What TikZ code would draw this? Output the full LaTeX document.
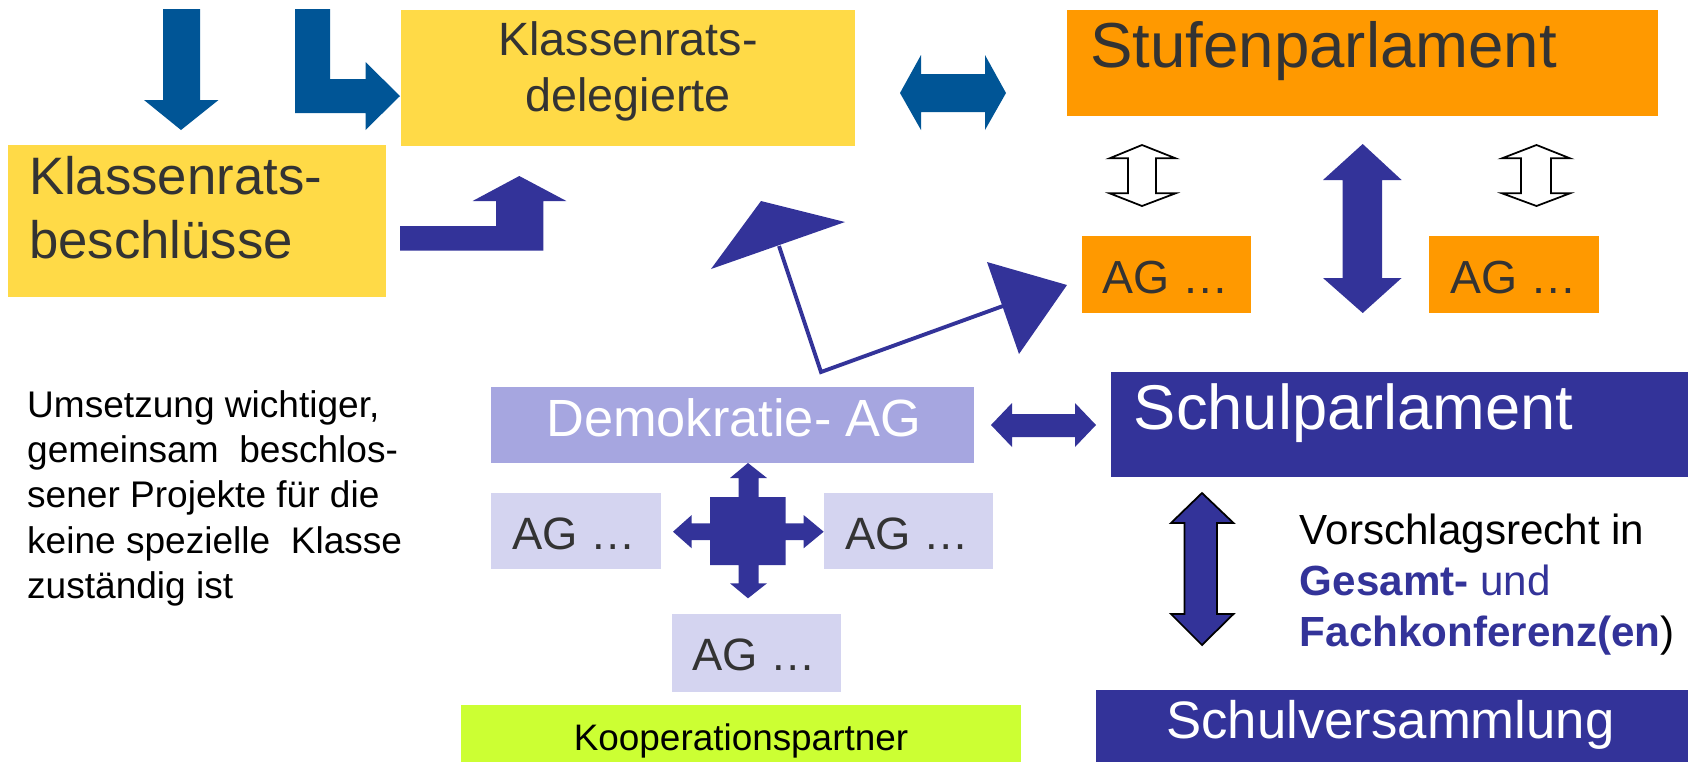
\documentclass[tikz,border=0pt]{standalone}
\usepackage{fontspec}
\setmainfont{Liberation Sans}
\definecolor{ylw}{HTML}{FFDA47}
\definecolor{org}{HTML}{FF9900}
\definecolor{blu}{HTML}{005596}
\definecolor{pur}{HTML}{333399}
\definecolor{lav}{HTML}{A6A6E0}
\definecolor{lil}{HTML}{D4D4F0}
\definecolor{lime}{HTML}{CCFF33}
\definecolor{txt}{HTML}{333333}
\newcommand\myfs[1]{\fontsize{#1pt}{#1pt}\selectfont}
\begin{document}
\begin{tikzpicture}[x=0.02cm,y=-0.02cm,
  lbl/.style={inner sep=0pt, anchor=base west},
  clbl/.style={inner sep=0pt, anchor=base},
  bluearrow/.style={fill=blu, draw=none},
  purarrow/.style={fill=pur, draw=none},
  outarrow/.style={fill=white, draw=black, line width=1pt},
  linkline/.style={draw=pur, line width=2.2pt, line join=miter}]
\useasboundingbox (0,0) rectangle (1688,762);

% boxes
\fill[ylw] (401,10) rectangle (855,146);
\fill[ylw] (8,145) rectangle (386,297);
\fill[org] (1067,10) rectangle (1658,116);
\fill[org] (1082,236) rectangle (1251,313);
\fill[org] (1429,236) rectangle (1599,313);
\fill[pur] (1111,372) rectangle (1688,477);
\fill[lav] (491,387) rectangle (974,463);
\fill[lil] (491,493) rectangle (661,569);
\fill[lil] (824,493) rectangle (993,569);
\fill[lil] (672,614) rectangle (841,692);
\fill[lime] (461,705) rectangle (1021,762);
\fill[pur] (1096,690) rectangle (1688,762);

% texts
\node[clbl, text=txt, font=\myfs{26.6}] (kd1) at (628,55) {Klassenrats-};
\node[clbl, text=txt, font=\myfs{26.6}] (kd2) at (628,111) {delegierte};
\node[lbl, text=txt, font=\myfs{30}] (kb1) at (28.7,194) {Klassenrats-};
\node[lbl, text=txt, font=\myfs{30}] (kb2) at (28.7,258) {beschlüsse};
\node[lbl, text=txt, font=\myfs{36.2}] (stp) at (1090,67) {Stufenparlament};
\node[lbl, text=txt, font=\myfs{26.4}] (agol) at (1102,293) {AG …};
\node[lbl, text=txt, font=\myfs{26.4}] (agor) at (1450,293) {AG …};
\node[lbl, text=white, font=\myfs{36}] (scp) at (1133.6,429.3) {Schulparlament};
\node[lbl, text=white, font=\myfs{29.8}] (demo) at (546,436) {Demokratie- AG};
\node[lbl, text=txt, font=\myfs{25.8}] (agl) at (512,549.3) {AG …};
\node[lbl, text=txt, font=\myfs{25.8}] (agr) at (845,549.3) {AG …};
\node[lbl, text=txt, font=\myfs{25.8}] (agb) at (691.7,670) {AG …};
\node[clbl, text=black, font=\myfs{21}] (koop) at (741,750) {Kooperationspartner};
\node[lbl, text=white, font=\myfs{30}] (sv) at (1166,738) {Schulversammlung};

\node[lbl, text=black, font=\myfs{21.1}] (u1) at (26.8,417.3) {Umsetzung wichtiger,};
\node[lbl, text=black, font=\myfs{21.1}] (u2) at (26.8,462.6) {gemeinsam\ \ beschlos-};
\node[lbl, text=black, font=\myfs{21.1}] (u3) at (26.8,507.9) {sener Projekte für die};
\node[lbl, text=black, font=\myfs{21.1}] (u4) at (26.8,553.2) {keine spezielle\ \ Klasse};
\node[lbl, text=black, font=\myfs{21.1}] (u5) at (26.8,598.5) {zuständig ist};

\node[lbl, text=black, font=\myfs{24}] (v1) at (1299.5,544) {Vorschlagsrecht in};
\node[lbl, text=pur, font=\myfs{24}] (v2) at (1299.5,595) {\textbf{Gesamt-} und};
\node[lbl, text=pur, font=\myfs{24}] (v3) at (1299.5,646) {\textbf{Fachkonferenz(en}\textcolor{black}{)}};

% arrows
\path[bluearrow] (163,9) -- (200,9) -- (200,100) -- (218.5,100) -- (181,130) -- (144,100) -- (163,100) -- cycle;
\path[bluearrow] (295,9) -- (330,9) -- (330,79) -- (365.5,79) -- (365.5,62) -- (400,96) -- (365.5,130) -- (365.5,113) -- (295,113) -- cycle;
\path[purarrow] (400,226) -- (496,226) -- (496,201) -- (472.6,201) -- (519.3,176) -- (566.4,201) -- (543.4,201) -- (543.4,250.7) -- (400,250.7) -- cycle;
\path[bluearrow] (900,93) -- (921,55) -- (921,74) -- (985,74) -- (985,55) -- (1006,93) -- (985,130) -- (985,112) -- (921,112) -- (921,130) -- cycle;

\path[outarrow] (1142,145) -- (1175.6,158.3) -- (1156,158.3) -- (1156,193.3) -- (1175.6,193.3) -- (1142,206) -- (1109.6,193.3) -- (1128,193.3) -- (1128,158.3) -- (1109.6,158.3) -- cycle;
\path[outarrow] (1536.5,145) -- (1570,158.3) -- (1551,158.3) -- (1551,193.3) -- (1570,193.3) -- (1536.5,206) -- (1502,193.3) -- (1521,193.3) -- (1521,158.3) -- (1502,158.3) -- cycle;

\path[purarrow] (1362.7,144) -- (1401.6,180) -- (1382,180) -- (1382,278) -- (1401.6,278) -- (1362.7,313) -- (1323,278) -- (1342.5,278) -- (1342.5,180) -- (1323,180) -- cycle;

\coordinate (c1) at (779,246);
\coordinate (c2) at (821,372);
\coordinate (c3) at (1003,306);
\draw[linkline] (c1) -- (c2) -- (c3);
\path[purarrow] (761,201) -- (845,222) -- (711,269) -- cycle;
\path[purarrow] (987,262) -- (1067,285) -- (1019,354) -- cycle;

\path[purarrow] (991,425) -- (1012,403) -- (1012,414) -- (1075,414) -- (1075,403) -- (1096,425) -- (1075,447) -- (1075,437) -- (1012,437) -- (1012,447) -- cycle;

\path[purarrow] (748,463) -- (767,478) -- (758.7,478) -- (758.7,497) -- (785.5,497) -- (785.5,523.3) -- (803.6,523.3) -- (803.6,515) -- (823.7,531.7) -- (803.6,548.3) -- (803.6,540) -- (785.5,540) -- (785.5,565) -- (758.7,565) -- (758.7,583.3) -- (767,583.3) -- (748,598.3) -- (730,583.3) -- (738.6,583.3) -- (738.6,565) -- (710,565) -- (710,540) -- (691.7,540) -- (691.7,548.3) -- (673,531.7) -- (691.7,515) -- (691.7,523.3) -- (710,523.3) -- (710,497) -- (738.6,497) -- (738.6,478) -- (730,478) -- cycle;

\path[fill=pur, draw=black, line width=1pt] (1202,493) -- (1233.5,523) -- (1217,523) -- (1217,614) -- (1233.5,614) -- (1202,645) -- (1171,614) -- (1184.5,614) -- (1184.5,523) -- (1171,523) -- cycle;
\end{tikzpicture}
\end{document}
